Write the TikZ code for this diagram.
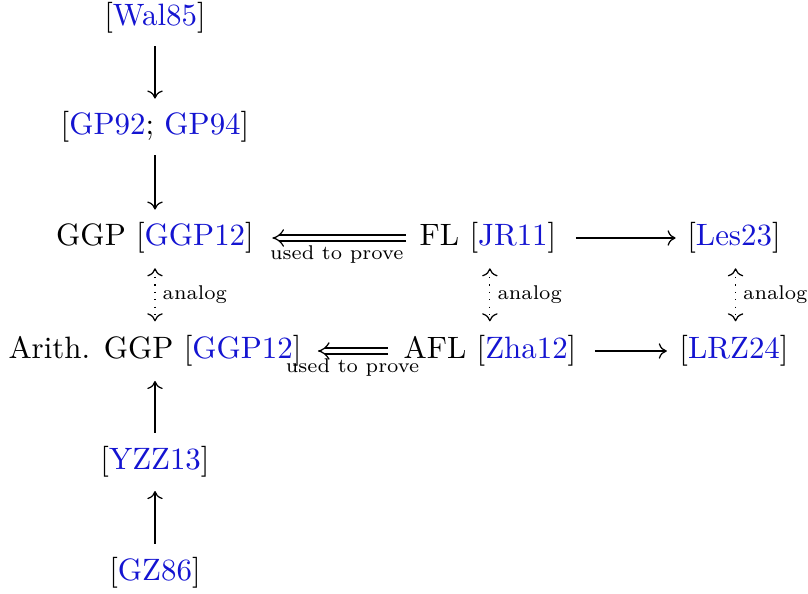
\documentclass[tikz,border=0pt]{standalone}
\usepackage{fontspec}
\usetikzlibrary{arrows.meta}
\definecolor{citeblue}{rgb}{0.08,0.08,0.82}
\newcommand{\cit}[1]{\textcolor{citeblue}{#1}}
\begin{document}
\begin{tikzpicture}[x=0.3235pt,y=-0.3235pt,
  obj/.style={inner sep=0pt, text height=7.5pt, text depth=2.5pt},
  arr/.style={-{Computer Modern Rightarrow[length=2.6pt,width=5pt]}, shorten <=4pt, shorten >=4pt},
  impl/.style={double, double distance=1.6pt, -{Implies}},
  dotarr/.style={dotted, {Computer Modern Rightarrow[length=2.6pt,width=5pt]}-{Computer Modern Rightarrow[length=2.6pt,width=5pt]}, shorten <=4.6pt, shorten >=4.4pt},
  lbl/.style={font=\scriptsize, scale=0.92, transform shape, inner sep=2.5pt}]
\useasboundingbox (0,0) rectangle (808,594);
\node[obj] (wal) at (155,18) {[\cit{Wal85}]};
\node[obj] (gp) at (155,127) {[\cit{GP92}; \cit{GP94}]};
\node[obj] (ggp) at (155,238) {GGP [\cit{GGP12}]};
\node[obj] (fl) at (488,238) {FL [\cit{JR11}]};
\node[obj] (les) at (734,238) {[\cit{Les23}]};
\node[obj] (aggp) at (155,351) {Arith. GGP [\cit{GGP12}]};
\node[obj] (afl) at (490,351) {AFL [\cit{Zha12}]};
\node[obj] (lrz) at (734,351) {[\cit{LRZ24}]};
\node[obj] (yzz) at (155,462) {[\cit{YZZ13}]};
\node[obj] (gz) at (155,573) {[\cit{GZ86}]};
\draw[arr] (wal) -- (gp);
\draw[arr] (gp) -- (ggp);
\draw[impl, shorten <=4.2pt, shorten >=5.8pt] (fl) -- node[lbl, below] {used to prove} (ggp);
\draw[arr, shorten <=6.1pt, shorten >=3.6pt] (fl) -- (les);
\draw[impl, shorten <=4.8pt, shorten >=5.1pt] (afl) -- node[lbl, below] {used to prove} (aggp);
\draw[arr, shorten <=5.8pt, shorten >=3.9pt] (afl) -- (lrz);
\draw[dotarr] (ggp) -- node[lbl, right] {analog} (aggp);
\draw[dotarr] ([xshift=0.6pt]fl.south) -- node[lbl, right] {analog} ([xshift=0.6pt]fl.south |- afl.north);
\draw[dotarr] ([xshift=0.5pt]les.south) -- node[lbl, right] {analog} ([xshift=0.5pt]les.south |- lrz.north);
\draw[arr, shorten <=4.2pt, shorten >=4.5pt] (yzz) -- (aggp);
\draw[arr, shorten <=4.2pt, shorten >=4.2pt] (gz) -- (yzz);
\end{tikzpicture}
\end{document}
